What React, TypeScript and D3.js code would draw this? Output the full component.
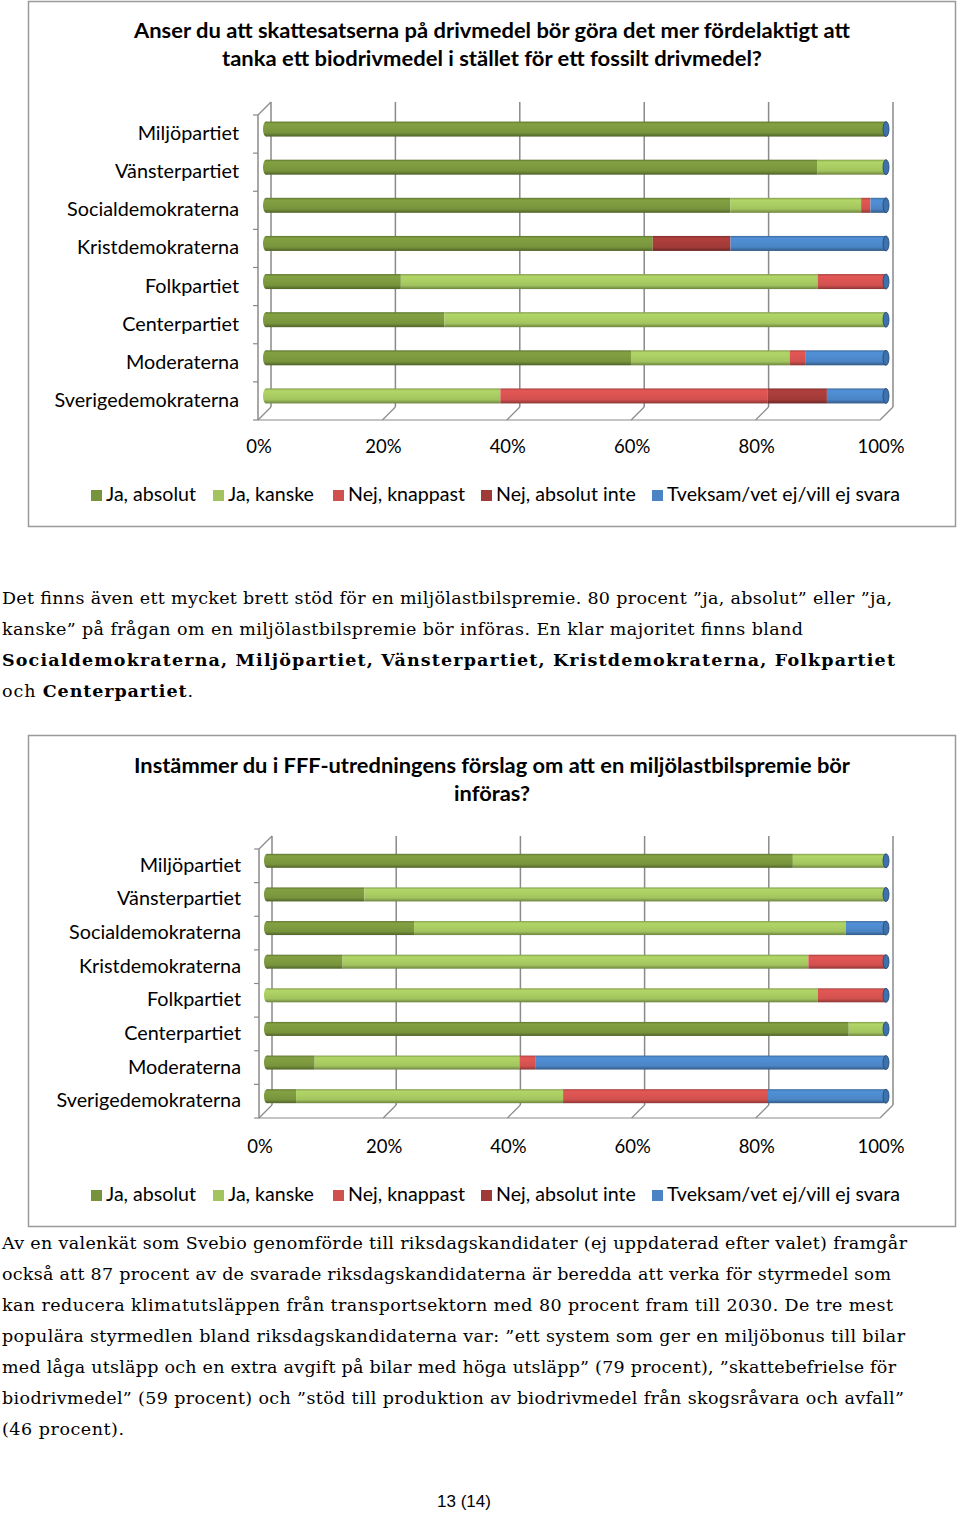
import React from "react";
import * as d3 from "d3";

const categories = [
  "Miljöpartiet",
  "Vänsterpartiet",
  "Socialdemokraterna",
  "Kristdemokraterna",
  "Folkpartiet",
  "Centerpartiet",
  "Moderaterna",
  "Sverigedemokraterna",
];
const seriesNames = [
  "Ja, absolut",
  "Ja, kanske",
  "Nej, knappast",
  "Nej, absolut inte",
  "Tveksam/vet ej/vill ej svara",
];
const tickValues = [0, 20, 40, 60, 80, 100];
const tickLabels = ["0%", "20%", "40%", "60%", "80%", "100%"];

// Chart 1
const q1Title = [
  "Anser du att skattesatserna på drivmedel bör göra det mer fördelaktigt att",
  "tanka ett biodrivmedel i stället för ett fossilt drivmedel?",
];
const q1TitleWidths = [716, 540];
const q1JaAbsolut = [100, 89, 75, 62.5, 22, 29, 59, 0];
const q1JaKanske = [0, 11, 21, 0, 67, 71, 25.5, 38];
const q1NejKnappast = [0, 0, 1.5, 0, 11, 0, 2.5, 43];
const q1NejAbsolutInte = [0, 0, 0, 12.5, 0, 0, 0, 9.5];
const q1Tveksam = [0, 0, 2.5, 25, 0, 0, 13, 9.5];

// Chart 2
const q2Title = [
  "Instämmer du i FFF-utredningens förslag om att en miljölastbilspremie bör",
  "införas?",
];
const q2TitleWidths = [716, 76];
const q2JaAbsolut = [85, 16, 24, 12.5, 0, 94, 8, 5];
const q2JaKanske = [15, 84, 69.5, 75, 89, 6, 33, 43];
const q2NejKnappast = [0, 0, 0, 12.5, 11, 0, 2.5, 33];
const q2NejAbsolutInte = [0, 0, 0, 0, 0, 0, 0, 0];
const q2Tveksam = [0, 0, 6.5, 0, 0, 0, 56.5, 19];

const para1 = [
  [{ t: "Det finns även ett mycket brett stöd för en miljölastbilspremie. 80 procent ”ja, absolut” eller ”ja,", b: false }],
  [{ t: "kanske” på frågan om en miljölastbilspremie bör införas. En klar majoritet finns bland", b: false }],
  [{ t: "Socialdemokraterna, Miljöpartiet, Vänsterpartiet, Kristdemokraterna, Folkpartiet", b: true }],
  [
    { t: "och ", b: false },
    { t: "Centerpartiet", b: true },
    { t: ".", b: false },
  ],
];
const para1Widths = [890, 801, 893, 191];

const para2 = [
  "Av en valenkät som Svebio genomförde till riksdagskandidater (ej uppdaterad efter valet) framgår",
  "också att 87 procent av de svarade riksdagskandidaterna är beredda att verka för styrmedel som",
  "kan reducera klimatutsläppen från transportsektorn med 80 procent fram till 2030. De tre mest",
  "populära styrmedlen bland riksdagskandidaterna var: ”ett system som ger en miljöbonus till bilar",
  "med låga utsläpp och en extra avgift på bilar med höga utsläpp” (79 procent), ”skattebefrielse för",
  "biodrivmedel” (59 procent) och ”stöd till produktion av biodrivmedel från skogsråvara och avfall”",
  "(46 procent).",
];
const para2Widths = [905, 889, 891, 903, 894, 902, 122];

const colors = ["#77933C", "#A2C35E", "#D0504E", "#A03A38", "#4A84C4"];

const FONT = "Lato, 'Open Sans', sans-serif";
const SERIF = "'DejaVu Serif', Georgia, serif";

function gradId(i: number) {
  return "barGrad" + i;
}

type ChartProps = {
  title: string[];
  titleWidths: number[];
  series: number[][];
  frameTop: number;
  frameBottom: number;
  titleBase: number;
  yTop: number;
  yBottom: number;
  labelRight: number;
  tickBase: number;
  legendBase: number;
  barH: number;
  xFront0: number;
};

function Chart(p: ChartProps) {
  const depth = 13;
  const x = d3.scaleLinear().domain([0, 100]).range([p.xFront0, 880]);
  const xBar = (v: number) => x(v) + 6;
  const y = d3.scaleBand<string>().domain(categories).range([p.yTop, p.yBottom]).padding(0);
  const rows = categories.map((c, i) => {
    const r: any = { cat: c };
    seriesNames.forEach((s, k) => (r[s] = p.series[k][i]));
    return r;
  });
  const stacked = d3.stack<any>().keys(seriesNames)(rows);
  const grid = "#8a8a8a";
  const legendSq = [91, 213, 333, 481, 652];

  return (
    <g>
      <rect x={28.5} y={p.frameTop + 0.5} width={927} height={p.frameBottom - p.frameTop} fill="#fff" stroke="#9a9a9a" strokeWidth={1.5} />
      {p.title.map((t, i) => (
        <text key={i} x={492} y={p.titleBase + i * 28} textAnchor="middle" fontFamily={FONT} fontWeight="bold" fontSize={21.5} fill="#000" textLength={p.titleWidths[i]} lengthAdjust="spacingAndGlyphs">
          {t}
        </text>
      ))}
      {/* back wall gridlines */}
      {tickValues.map((v) => (
        <line key={"g" + v} x1={x(v) + depth} x2={x(v) + depth} y1={p.yTop - depth} y2={p.yBottom - depth} stroke={grid} strokeWidth={1.5} />
      ))}
      {/* floor diagonals */}
      {tickValues.map((v) => (
        <line key={"d" + v} x1={x(v)} x2={x(v) + depth} y1={p.yBottom} y2={p.yBottom - depth} stroke={grid} strokeWidth={1.2} />
      ))}
      <line x1={x(0)} x2={x(100)} y1={p.yBottom} y2={p.yBottom} stroke={grid} strokeWidth={1.2} />
      {/* left axis */}
      <line x1={x(0)} x2={x(0)} y1={p.yTop} y2={p.yBottom} stroke={grid} strokeWidth={1.5} />
      <line x1={x(0)} x2={x(0) + depth} y1={p.yTop} y2={p.yTop - depth} stroke={grid} strokeWidth={1.2} />
      {categories.map((c, i) => (
        <line key={"t" + i} x1={x(0) - 5} x2={x(0)} y1={(y(c) as number) + y.bandwidth()} y2={(y(c) as number) + y.bandwidth()} stroke={grid} strokeWidth={1.2} />
      ))}
      <line x1={x(0) - 5} x2={x(0)} y1={p.yTop} y2={p.yTop} stroke={grid} strokeWidth={1.2} />
      {/* bars */}
      {categories.map((c, i) => {
        const cy = (y(c) as number) + y.bandwidth() / 2 - 5;
        const top = cy - p.barH / 2;
        const firstK = stacked.findIndex((s) => s[i][1] - s[i][0] > 0);
        return (
          <g key={"b" + i}>
            <ellipse cx={xBar(0) + 2} cy={cy} rx={3} ry={p.barH / 2} fill={`url(#${gradId(firstK)})`} />
            {stacked.map((s, k) => {
              const w = xBar(s[i][1]) - xBar(s[i][0]);
              if (w <= 0) return null;
              return <rect key={k} x={xBar(s[i][0]) + (k === firstK ? 2 : 0)} y={top} width={w - (k === firstK ? 2 : 0)} height={p.barH} fill={`url(#${gradId(k)})`} />;
            })}
            <ellipse cx={xBar(100)} cy={cy} rx={3} ry={p.barH / 2} fill="#3D72AE" stroke="#24456d" strokeWidth={0.8} />
          </g>
        );
      })}
      {/* category labels */}
      {categories.map((c) => (
        <text key={"l" + c} x={p.labelRight} y={(y(c) as number) + y.bandwidth() / 2 + 6} textAnchor="end" fontFamily={FONT} fontSize={19.8} fill="#000">
          {c}
        </text>
      ))}
      {/* tick labels */}
      {tickValues.map((v, i) => (
        <text key={"x" + v} x={x(v) + 1} y={p.tickBase} textAnchor="middle" fontFamily={FONT} fontSize={18.5} fill="#000">
          {tickLabels[i]}
        </text>
      ))}
      {/* legend */}
      {seriesNames.map((s, k) => (
        <g key={"lg" + k}>
          <rect x={legendSq[k]} y={p.legendBase - 11} width={11} height={11} fill={colors[k]} />
          <text x={legendSq[k] + 15} y={p.legendBase} fontFamily={FONT} fontSize={19.6} fill="#000">
            {s}
          </text>
        </g>
      ))}
    </g>
  );
}

export default function App() {
  return (
    <svg width={960} height={1515} style={{ position: "absolute", left: 0, top: 0, background: "#fff" }}>
      <defs>
        {colors.map((c, i) => {
          const col = d3.color(c) as d3.RGBColor;
          return (
            <linearGradient key={i} id={gradId(i)} x1="0" y1="0" x2="0" y2="1">
              <stop offset="0%" stopColor={col.darker(0.6).toString()} />
              <stop offset="15%" stopColor={col.brighter(0.25).toString()} />
              <stop offset="45%" stopColor={col.brighter(0.15).toString()} />
              <stop offset="75%" stopColor={c} />
              <stop offset="100%" stopColor={col.darker(1.1).toString()} />
            </linearGradient>
          );
        })}
      </defs>
      <rect x={0} y={0} width={960} height={1515} fill="#fff" />
      <Chart
        title={q1Title}
        titleWidths={q1TitleWidths}
        series={[q1JaAbsolut, q1JaKanske, q1NejKnappast, q1NejAbsolutInte, q1Tveksam]}
        frameTop={1}
        frameBottom={526}
        titleBase={38}
        yTop={115}
        yBottom={420}
        labelRight={239}
        tickBase={453}
        legendBase={501}
        barH={15}
        xFront0={258}
      />
      <Chart
        title={q2Title}
        titleWidths={q2TitleWidths}
        series={[q2JaAbsolut, q2JaKanske, q2NejKnappast, q2NejAbsolutInte, q2Tveksam]}
        frameTop={735}
        frameBottom={1226}
        titleBase={773}
        yTop={849}
        yBottom={1118}
        labelRight={241}
        tickBase={1153}
        legendBase={1201}
        barH={14}
        xFront0={259}
      />
      {para1.map((line, i) => (
        <text key={"p1" + i} x={2} y={604 + i * 31} fontFamily={SERIF} fontSize={17.5} fill="#000" textLength={para1Widths[i]} lengthAdjust="spacing">
          {line.map((seg, j) => (
            <tspan key={j} fontWeight={seg.b ? "bold" : "normal"}>
              {seg.t}
            </tspan>
          ))}
        </text>
      ))}
      {para2.map((line, i) => (
        <text key={"p2" + i} x={2} y={1249 + i * 31} fontFamily={SERIF} fontSize={17.5} fill="#000" textLength={para2Widths[i]} lengthAdjust="spacing">
          {line}
        </text>
      ))}
      <text x={464} y={1507} textAnchor="middle" fontFamily="'Liberation Sans', Arial, sans-serif" fontSize={17} fill="#000">
        13 (14)
      </text>
    </svg>
  );
}
